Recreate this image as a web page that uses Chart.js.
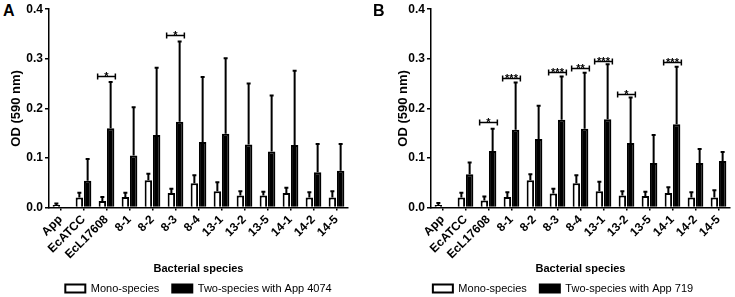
<!DOCTYPE html>
<html>
<head>
<meta charset="utf-8">
<script src="https://cdn.jsdelivr.net/npm/chart.js@4.4.0/dist/chart.umd.min.js"></script>
<style>
    html, body { margin: 0; padding: 0; background: #fff; }
    body { width: 735px; height: 297px; position: relative; overflow: hidden; font-family: "Liberation Sans", Arial, sans-serif; }
    .pannello { position: absolute; top: 0; height: 297px; }
    .lettera  { position: absolute; top: 3px; font-weight: bold; font-size: 16px; line-height: 1; color: #000; }
</style>
</head>
<body>
<div class="lettera" style="left:3px">A</div>
<div class="pannello" style="left:9px;width:376px"><canvas id="grafico_a"></canvas></div>
<div class="lettera" style="left:373px">B</div>
<div class="pannello" style="left:396px;width:339px"><canvas id="grafico_b"></canvas></div>
<script>
var categorie = [ "App", "EcATCC", "EcL17608", "8-1", "8-2", "8-3", "8-4", "13-1", "13-2", "13-5", "14-1", "14-2", "14-5" ];
var tick_y    = [ 0, 0.1, 0.2, 0.3, 0.4 ];

// pannello A - App 4074
var mono_a    = [ 0.005, 0.020, 0.013, 0.021, 0.055, 0.029, 0.049, 0.033, 0.024, 0.024, 0.029, 0.020, 0.020 ];
var mono_sd_a = [ 0.003, 0.010, 0.008, 0.009, 0.013, 0.009, 0.016, 0.018, 0.009, 0.008, 0.011, 0.011, 0.013 ];
var dual_a    = [ 0,     0.054, 0.160, 0.105, 0.146, 0.173, 0.132, 0.149, 0.127, 0.113, 0.126, 0.071, 0.074 ];
var dual_sd_a = [ 0,     0.044, 0.093, 0.097, 0.136, 0.162, 0.131, 0.152, 0.123, 0.113, 0.150, 0.057, 0.054 ];
var sig_idx_a = [ 2, 5 ];
var sig_y_a   = [ 0.266, 0.347 ];
var sig_lab_a = [ "*", "*" ];

// pannello B - App 719
var mono_b    = [ 0.005, 0.020, 0.014, 0.021, 0.055, 0.028, 0.049, 0.033, 0.024, 0.023, 0.029, 0.020, 0.020 ];
var mono_sd_b = [ 0.004, 0.010, 0.008, 0.010, 0.012, 0.010, 0.016, 0.019, 0.009, 0.009, 0.012, 0.011, 0.015 ];
var dual_b    = [ 0,     0.067, 0.114, 0.157, 0.138, 0.177, 0.159, 0.178, 0.130, 0.090, 0.168, 0.090, 0.094 ];
var dual_sd_b = [ 0,     0.024, 0.045, 0.095, 0.067, 0.087, 0.113, 0.111, 0.092, 0.056, 0.116, 0.028, 0.018 ];
var sig_idx_b = [ 2, 3, 5, 6, 7, 8, 10 ];
var sig_y_b   = [ 0.172, 0.262, 0.274, 0.281, 0.296, 0.229, 0.294 ];
var sig_lab_b = [ "*", "***", "***", "**", "***", "*", "***" ];

var FONT = "'Liberation Sans', Arial, sans-serif";

var barreErrore = {
    id: "barreErrore",
    afterDatasetsDraw: function ( chart, args, opts )
    {
        var ctx = chart.ctx,
            y   = chart.scales.y;

        ctx.save();
        ctx.strokeStyle = "#000";
        ctx.lineWidth   = 2;
        chart.data.datasets.forEach( function ( ds, i ) {
            var sd = opts.sd[i];
            chart.getDatasetMeta( i ).data.forEach( function ( bar, j ) {
                if ( !sd[j] ) return;
                var top = y.getPixelForValue( ds.data[j] + sd[j] );
                ctx.beginPath();
                ctx.moveTo( bar.x, bar.y );
                ctx.lineTo( bar.x, top );
                ctx.moveTo( bar.x - 2, top );
                ctx.lineTo( bar.x + 2, top );
                ctx.stroke();
            } );
        } );
        ctx.restore();
    }
};

var significativita = {
    id: "significativita",
    afterDatasetsDraw: function ( chart, args, opts )
    {
        var ctx  = chart.ctx,
            y    = chart.scales.y,
            mono = chart.getDatasetMeta( 0 ).data,
            dual = chart.getDatasetMeta( 1 ).data;

        ctx.save();
        ctx.strokeStyle  = "#000";
        ctx.fillStyle    = "#000";
        ctx.lineWidth    = 1.5;
        ctx.font         = "bold 11px " + FONT;
        ctx.textAlign    = "center";
        ctx.textBaseline = "alphabetic";
        opts.indici.forEach( function ( k, n ) {
            var x0 = mono[k].x - mono[k].width / 2 - 1,
                x1 = dual[k].x + dual[k].width / 2 + 1,
                py = Math.round( y.getPixelForValue( opts.livelli[n] ) ) + 0.5;
            ctx.beginPath();
            ctx.moveTo( x0, py );     ctx.lineTo( x1, py );
            ctx.moveTo( x0, py - 3 ); ctx.lineTo( x0, py + 3 );
            ctx.moveTo( x1, py - 3 ); ctx.lineTo( x1, py + 3 );
            ctx.stroke();
            ctx.fillText( opts.etichette[n], ( x0 + x1 ) / 2, py + 3 );
        } );
        ctx.restore();
    }
};

var Grafici = Grafici || function () {
    return {

        opzioni: function opzioni( sd, idx, livelli, etichette, padDestra, largY, legendaPiena )
        {
            return {
                responsive         : true,
                maintainAspectRatio: false,
                animation          : false,
                devicePixelRatio   : 1,
                layout: { padding: { top: 7, right: padDestra, bottom: -7, left: 0 } },
                scales: {
                    x: {
                        offset: true,
                        afterFit: function ( scale ) { scale.height = 62.5; },
                        border: { display: true, color: "#000", width: 1.5 },
                        grid  : { drawOnChartArea: false, drawTicks: true, tickLength: 3, color: "#000", lineWidth: 1.5, offset: false },
                        ticks : { autoSkip: false, minRotation: 45, maxRotation: 45, padding: 2, color: "#000",
                                  font: { family: FONT, size: 12, weight: "bold" } },
                        title : { display: true, text: "Bacterial species", color: "#000", padding: { top: 0, bottom: -6 },
                                  font: { family: FONT, size: 11, weight: "bold" } }
                    },
                    y: {
                        min: 0,
                        max: 0.4,
                        afterFit: function ( scale ) { scale.width = largY; },
                        afterBuildTicks: function ( scale ) { scale.ticks = tick_y.map( function ( v ) { return { value: v }; } ); },
                        border: { display: true, color: "#000", width: 1.5 },
                        grid  : { drawOnChartArea: false, drawTicks: true, tickLength: 4, color: "#000", lineWidth: 1.5 },
                        ticks : { padding: 2, color: "#000", callback: function ( v ) { return v.toFixed( 1 ); },
                                  font: { family: FONT, size: 12, weight: "bold" } },
                        title : { display: true, text: "OD (590 nm)", color: "#000", padding: 0,
                                  font: { family: FONT, size: 13, weight: "bold" } }
                    }
                },
                plugins: {
                    legend: {
                        position: "bottom",
                        fullSize: legendaPiena,
                        labels  : { boxWidth: 20, boxHeight: 8, padding: 13, color: "#000",
                                    font: { family: FONT, size: 11 } }
                    },
                    tooltip: { enabled: false },
                    barreErrore    : { sd: sd },
                    significativita: { indici: idx, livelli: livelli, etichette: etichette }
                }
            };
        },

        disegna: function disegna( id, mono, dual, nomeDual, sd, idx, livelli, etichette, padDestra, largY, legendaPiena )
        {
            return new Chart( document.getElementById( id ).getContext( "2d" ), {
                type: "bar",
                data: {
                    labels  : categorie,
                    datasets: [
                        { label: "Mono-species", data: mono, backgroundColor: "#fff", borderColor: "#000", borderWidth: 2,
                          categoryPercentage: 0.72, barPercentage: 0.9 },
                        { label: nomeDual, data: dual, backgroundColor: "#000", borderColor: "#000", borderWidth: 2,
                          categoryPercentage: 0.72, barPercentage: 0.9 }
                    ]
                },
                options: this.opzioni( sd, idx, livelli, etichette, padDestra, largY, legendaPiena ),
                plugins: [ barreErrore, significativita ]
            } );
        },

        init: function init()
        {
            this.grafico_a = this.disegna( "grafico_a", mono_a, dual_a, "Two-species with App 4074",
                                           [ mono_sd_a, dual_sd_a ], sig_idx_a, sig_y_a, sig_lab_a, 37, 40, false );
            this.grafico_b = this.disegna( "grafico_b", mono_b, dual_b, "Two-species with App 719",
                                           [ mono_sd_b, dual_sd_b ], sig_idx_b, sig_y_b, sig_lab_b, 5, 35, true );
        }
    };
}();

Grafici.init();
</script>
</body>
</html>
